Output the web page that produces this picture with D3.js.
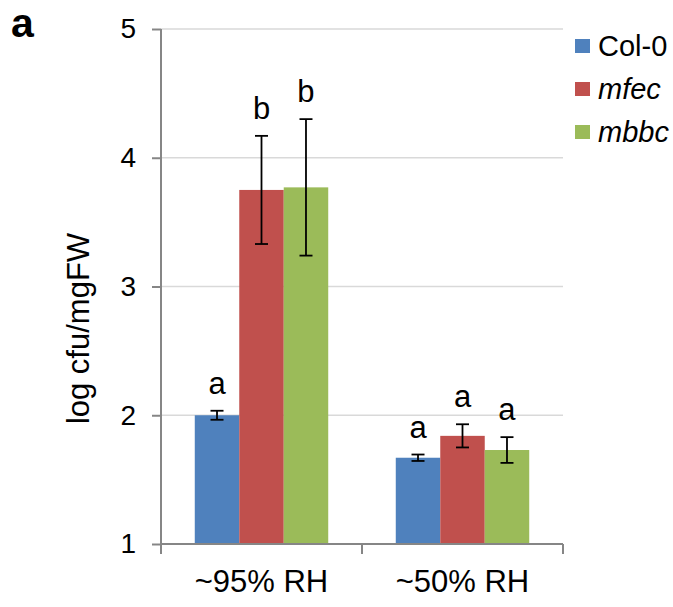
<!DOCTYPE html>
<html>
<head>
<meta charset="utf-8">
<script src="https://cdn.jsdelivr.net/npm/d3@7"></script>
<style>
body { margin: 0; background: #fff; }
svg text { font-family: "Liberation Sans", Arial, sans-serif; fill: #000; }
</style>
</head>
<body>
<svg id="chart"></svg>
<script>
var categories = ["~95% RH", "~50% RH"];
var genotypes = ["Col-0", "mfec", "mbbc"];
var italicNames = [false, true, true];
var colors = ["#4f81bd", "#c0504d", "#9bbb59"];
// mean values per genotype, one per category
var colValues = [2.00, 1.67];
var mfecValues = [3.75, 1.84];
var mbbcValues = [3.77, 1.73];
var colErrors = [0.035, 0.025];
var mfecErrors = [0.42, 0.09];
var mbbcErrors = [0.53, 0.10];
var colLetters = ["a", "a"];
var mfecLetters = ["b", "a"];
var mbbcLetters = ["b", "a"];
var yTicks = [1, 2, 3, 4, 5];

var width = 673, height = 607;
var margin = { top: 29, right: 110, bottom: 63, left: 161 };

var svg = d3.select("#chart").attr("width", width).attr("height", height);

var xScale = d3.scaleBand().domain(categories)
	.range([margin.left, width - margin.right])
	.paddingInner(0.336).paddingOuter(0.168);
var subScale = d3.scaleBand().domain(genotypes).range([0, xScale.bandwidth()]).padding(0);
var yScale = d3.scaleLinear().domain([1, 5]).range([height - margin.bottom, margin.top]);

var series = [
	{ name: genotypes[0], values: colValues, errors: colErrors, letters: colLetters },
	{ name: genotypes[1], values: mfecValues, errors: mfecErrors, letters: mfecLetters },
	{ name: genotypes[2], values: mbbcValues, errors: mbbcErrors, letters: mbbcLetters }
];

// gridlines
svg.append("g").selectAll("line").data(yTicks.slice(1)).enter().append("line")
	.attr("x1", margin.left).attr("x2", width - margin.right)
	.attr("y1", function(d) { return yScale(d); }).attr("y2", function(d) { return yScale(d); })
	.attr("stroke", "#d9d9d9").attr("stroke-width", 1.5);

// bars
var rows = [];
series.forEach(function(s, si) {
	categories.forEach(function(c, ci) {
		rows.push({ cat: c, name: s.name, value: s.values[ci], err: s.errors[ci], letter: s.letters[ci], color: colors[si] });
	});
});

svg.append("g").selectAll("rect").data(rows).enter().append("rect")
	.attr("x", function(d) { return xScale(d.cat) + subScale(d.name); })
	.attr("width", subScale.bandwidth())
	.attr("y", function(d) { return yScale(d.value); })
	.attr("height", function(d) { return yScale(1) - yScale(d.value); })
	.attr("fill", function(d) { return d.color; });

// error bars
var capW = 6.5;
var errG = svg.append("g").attr("stroke", "#000").attr("stroke-width", 1.8);
rows.forEach(function(d) {
	var cx = xScale(d.cat) + subScale(d.name) + subScale.bandwidth() / 2;
	var yt = yScale(d.value + d.err), yb = yScale(d.value - d.err);
	errG.append("line").attr("x1", cx).attr("x2", cx).attr("y1", yt).attr("y2", yb);
	errG.append("line").attr("x1", cx - capW).attr("x2", cx + capW).attr("y1", yt).attr("y2", yt);
	errG.append("line").attr("x1", cx - capW).attr("x2", cx + capW).attr("y1", yb).attr("y2", yb);
});

// significance letters
svg.append("g").selectAll("text").data(rows).enter().append("text")
	.attr("x", function(d) { return xScale(d.cat) + subScale(d.name) + subScale.bandwidth() / 2; })
	.attr("y", function(d) { return yScale(d.value + d.err) - 17; })
	.attr("text-anchor", "middle")
	.style("font-size", "31px")
	.text(function(d) { return d.letter; });

// y axis
var yAxis = d3.axisLeft(yScale).tickValues(yTicks).tickFormat(d3.format("d")).tickSize(9).tickPadding(16);
var yAxisG = svg.append("g").attr("transform", "translate(" + margin.left + ",0)").call(yAxis);
yAxisG.select(".domain").attr("d", "M0," + yScale(5) + "V" + (yScale(1) + 10)).attr("stroke", "#868686").attr("stroke-width", 2);
yAxisG.selectAll(".tick line").attr("stroke", "#868686").attr("stroke-width", 2);
yAxisG.selectAll(".tick text").style("font-size", "28px").style("font-family", "Liberation Sans, Arial, sans-serif").attr("fill", "#000");

// x axis
var xAxisG = svg.append("g").attr("transform", "translate(0," + yScale(1) + ")");
xAxisG.append("line").attr("x1", margin.left).attr("x2", width - margin.right)
	.attr("stroke", "#868686").attr("stroke-width", 2);
var step = xScale.step();
var boundaries = [margin.left + step, width - margin.right];
xAxisG.selectAll(".xtick").data(boundaries).enter().append("line")
	.attr("x1", function(d) { return d; }).attr("x2", function(d) { return d; })
	.attr("y1", 0).attr("y2", 10)
	.attr("stroke", "#868686").attr("stroke-width", 2);
xAxisG.selectAll(".xlabel").data(categories).enter().append("text")
	.attr("x", function(d) { return xScale(d) + xScale.bandwidth() / 2; })
	.attr("y", 48)
	.attr("text-anchor", "middle")
	.style("font-size", "31px")
	.text(function(d) { return d; });

// y label, sits a little below the middle of the axis as in the original
svg.append("text")
	.attr("transform", "translate(89," + ((yScale(1) + yScale(5)) / 2 + 42) + ") rotate(-90)")
	.attr("text-anchor", "middle")
	.style("font-size", "31px")
	.text("log cfu/mgFW");

// legend
var legend = svg.append("g").attr("transform", "translate(575,39)");
genotypes.forEach(function(g, i) {
	var row = legend.append("g").attr("transform", "translate(0," + (i * 43) + ")");
	row.append("rect").attr("width", 15).attr("height", 14).attr("fill", colors[i]);
	row.append("text").attr("x", 23).attr("y", 17)
		.style("font-size", "29px")
		.style("font-style", italicNames[i] ? "italic" : "normal")
		.text(g);
});

// panel label
svg.append("text").attr("x", 11).attr("y", 37)
	.style("font-size", "41px").style("font-weight", "bold")
	.text("a");
</script>
</body>
</html>
